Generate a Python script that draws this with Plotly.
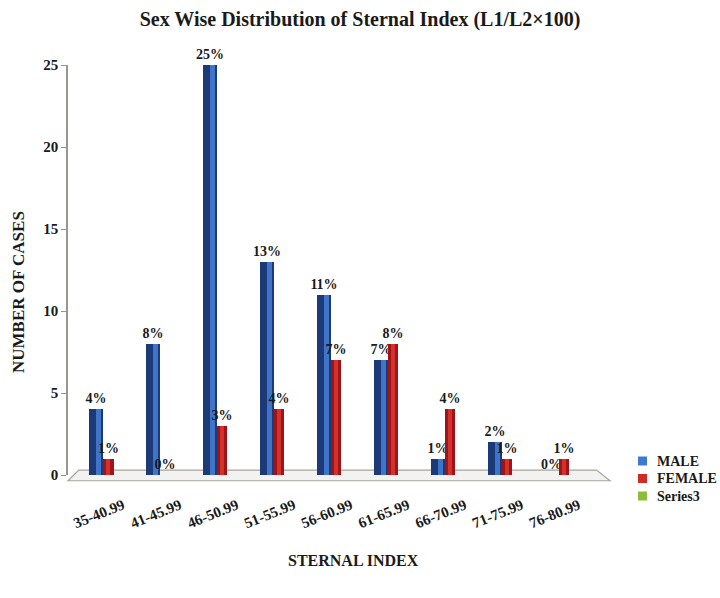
import plotly.graph_objects as go

# Sternal index classes and case counts by sex
categories = ["35-40.99", "41-45.99", "46-50.99", "51-55.99", "56-60.99",
              "61-65.99", "66-70.99", "71-75.99", "76-80.99"]
male = [4, 8, 25, 13, 11, 7, 1, 2, 0]
female = [1, 0, 3, 4, 7, 8, 4, 1, 1]
series3 = [None] * len(categories)

series_names = ["MALE", "FEMALE", "Series3"]
legend_colors = ["#3d7bd0", "#d02a26", "#8cbd3a"]

male_labels = [f"{v}%" for v in male]
female_labels = [f"{v}%" for v in female]

idx = list(range(len(categories)))
FONT = "Liberation Serif"
INK = "#1a1a1a"
label_font = dict(family=FONT, size=14, color=INK, weight="bold")

W, H = 720, 598
L, R, T, B = 68, 110, 65, 123

fig = go.Figure()

# Male bars: dark body with a lighter highlight strip
fig.add_trace(go.Bar(
    x=idx, y=male, width=0.25, offset=-0.25,
    marker=dict(color="#1d3a78", line=dict(width=0)),
    text=male_labels, textposition="outside", textfont=label_font,
    constraintext="none", cliponaxis=False, hoverinfo="skip"))
fig.add_trace(go.Bar(
    x=idx, y=male, width=0.09, offset=-0.12,
    marker=dict(color="#3f74c8", line=dict(width=0)),
    name=series_names[0], cliponaxis=False))

# Female bars
fig.add_trace(go.Bar(
    x=idx, y=female, width=0.185, offset=0.0,
    marker=dict(color="#9e1418", line=dict(width=0)),
    text=female_labels, textposition="outside", textfont=label_font,
    constraintext="none", cliponaxis=False, hoverinfo="skip"))
fig.add_trace(go.Bar(
    x=idx, y=female, width=0.07, offset=0.055,
    marker=dict(color="#d4302c", line=dict(width=0)),
    name=series_names[1], cliponaxis=False))

# Empty third series
fig.add_trace(go.Bar(x=idx, y=series3, marker=dict(color=legend_colors[2]),
                     name=series_names[2]))

# Floor plane under the bars
fig.add_shape(type="path",
              path="M 0.02 0.012 L 0.975 0.012 L 1.0 -0.014 L 0.0 -0.014 Z",
              xref="x domain", yref="y domain",
              fillcolor="#f2f2f0", line=dict(color="#a8a49e", width=1.2),
              layer="below")

# Legend drawn beside the plot: colour squares and bold names
for i, (name, col) in enumerate(zip(series_names, legend_colors)):
    yc = 461 + i * 17.5
    fig.add_shape(type="rect", xref="paper", yref="paper",
                  x0=(638 - L) / (W - L - R), x1=(647 - L) / (W - L - R),
                  y0=(H - B - yc - 4.5) / (H - T - B),
                  y1=(H - B - yc + 4.5) / (H - T - B),
                  fillcolor=col, line=dict(width=0))
    fig.add_annotation(text=name, xref="paper", yref="paper",
                       x=(655 - L) / (W - L - R),
                       y=(H - B - yc) / (H - T - B),
                       xanchor="left", yanchor="middle", showarrow=False,
                       font=dict(family=FONT, size=14, color=INK,
                                 weight="bold"))

# Axis titles
fig.add_annotation(text="NUMBER OF CASES", xref="paper", yref="paper",
                   x=(18 - L) / (W - L - R), y=(H - B - 292) / (H - T - B),
                   xanchor="center", yanchor="middle", textangle=-90,
                   showarrow=False,
                   font=dict(family=FONT, size=17, color=INK, weight="bold"))
fig.add_annotation(text="STERNAL INDEX", xref="paper", yref="paper",
                   x=(353 - L) / (W - L - R), y=(H - B - 560) / (H - T - B),
                   xanchor="center", yanchor="middle", showarrow=False,
                   font=dict(family=FONT, size=16, color=INK, weight="bold"))

fig.update_layout(
    width=W, height=H,
    margin=dict(l=L, r=R, t=T, b=B),
    paper_bgcolor="white", plot_bgcolor="white",
    barmode="overlay", showlegend=False,
    title=dict(text="Sex Wise Distribution of Sternal Index (L1/L2×100)",
               x=0.5, xanchor="center", y=0.968, yanchor="middle",
               yref="container",
               font=dict(family=FONT, size=20, color=INK, weight="bold")),
    font=dict(family=FONT, color=INK),
    bargap=0,
)

fig.update_xaxes(
    range=[-0.614, 8.9], automargin=False,
    tickmode="array", tickvals=idx, ticktext=categories,
    tickangle=-22, ticks="", showline=False, showgrid=False, zeroline=False,
    ticklabelshift=20, ticklabelstandoff=18,
    tickfont=dict(family=FONT, size=15, color=INK, weight="bold"))

fig.update_yaxes(
    range=[0, 25], tickvals=[0, 5, 10, 15, 20, 25], automargin=False,
    ticks="outside", ticklen=5, tickcolor="#9a958e",
    showline=True, linecolor="#9a958e", linewidth=1.5,
    showgrid=False, zeroline=False,
    tickfont=dict(family=FONT, size=15, color=INK, weight="bold"))

fig.write_html("out.html")
